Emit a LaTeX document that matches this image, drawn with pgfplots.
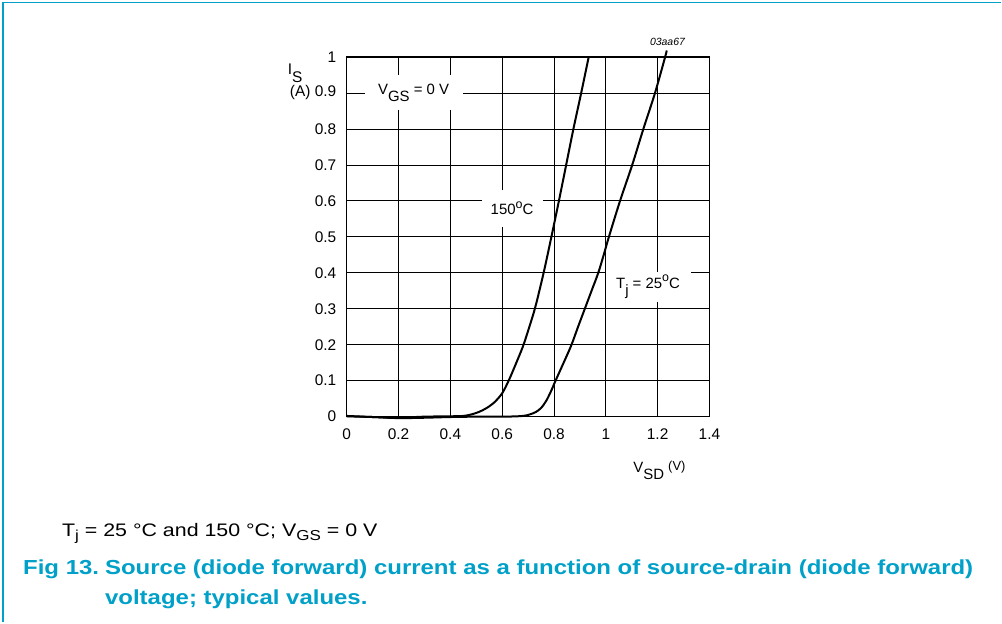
\documentclass[border=0pt]{standalone}
\usepackage{pgfplots}
\pgfplotsset{compat=1.18}
\usepackage{fontspec}
\setmainfont{Liberation Sans}
\newfontfamily\capfont[FakeStretch=1.18]{Liberation Sans}
\definecolor{nxpblue}{RGB}{0,160,200}
\newcommand\lo[1]{\raisebox{-0.9ex}{#1}}
\newcommand\up[1]{\raisebox{0.8ex}{\fontsize{12.5}{14}\selectfont #1}}
\begin{document}
\begin{tikzpicture}[x=1bp,y=1bp]
\path (0,0) rectangle (1002,623);
\draw[nxpblue, line width=1.6bp] (3.3,0) -- (3.3,620.3) -- (1002,620.3);
\begin{axis}[
  at={(347bp,206bp)}, anchor=south west,
  scale only axis, width=363bp, height=360bp,
  xmin=0, xmax=1.4, ymin=0, ymax=1,
  xtick={0,0.2,0.4,0.6,0.8,1,1.2,1.4},
  xticklabels={0,0.2,0.4,0.6,0.8,1,1.2,1.4},
  ytick={0,0.1,0.2,0.3,0.4,0.5,0.6,0.7,0.8,0.9,1},
  yticklabels={0,0.1,0.2,0.3,0.4,0.5,0.6,0.7,0.8,(A) 0.9,1},
  tick label style={font=\fontsize{15.5}{18}\selectfont},
  xticklabel style={yshift=-9bp},
  yticklabel style={xshift=-7bp},
  major tick length=0pt,
  grid=major,
  major grid style={black, line width=0.7bp},
  axis line style={black, line width=0.9bp},
  clip=false,
]
\addplot[black, line width=2bp, smooth, tension=0.5] coordinates {
(0,0.002)(0.1,-0.001)(0.2,-0.003)(0.3,0)(0.4,0.001)(0.45,0.002)(0.48,0.006)
(0.51,0.013)(0.54,0.024)(0.57,0.04)(0.6,0.065)(0.625,0.1)(0.65,0.142)
(0.68,0.195)(0.705,0.25)(0.728,0.305)(0.76,0.4)(0.79,0.5)
(0.819,0.6)(0.847,0.7)(0.875,0.8)(0.905,0.9)(0.934,1.0)};
\addplot[black, line width=2bp, smooth, tension=0.5] coordinates {
(0,0.001)(0.1,-0.001)(0.2,-0.004)(0.3,-0.003)(0.4,-0.001)(0.5,0)(0.6,0)
(0.66,0.001)(0.69,0.003)(0.71,0.007)(0.73,0.013)(0.75,0.024)(0.77,0.044)
(0.788,0.07)(0.806,0.1)(0.836,0.148)(0.866,0.197)(0.893,0.25)(0.919,0.3)
(0.945,0.35)(0.971,0.4)(0.992,0.45)(1.012,0.5)(1.055,0.6)(1.102,0.7)
(1.145,0.8)(1.19,0.9)(1.229,1.0)(1.235,1.018)};
\node[fill=white, inner sep=0pt, minimum width=98bp, minimum height=35bp,
  font=\fontsize{15}{17}\selectfont] at (axis cs:0.258,0.901) {V\lo{GS} = 0 V};
\node[fill=white, inner sep=0pt, minimum width=61bp, minimum height=37bp,
  font=\fontsize{15}{17}\selectfont] at (axis cs:0.638,0.579) {150\up{o}C};
\node[fill=white, inner sep=0pt, minimum width=85bp, minimum height=30bp,
  font=\fontsize{15}{17}\selectfont] at (axis cs:1.163,0.361) {T\lo{j} = 25\up{o}C};
\node[anchor=base west, inner sep=0pt, font=\fontsize{15.5}{17}\selectfont]
  at (axis cs:-0.228,0.95) {I\lo{S}};
\node[font=\fontsize{15}{17}\selectfont] at (axis cs:1.207,-0.15)
  {V\lo{SD} \raisebox{0.2ex}{\fontsize{13}{15}\selectfont (V)}};
\node[font=\fontsize{10.5}{12}\selectfont\itshape] at (axis cs:1.238,1.042) {03aa67};
\end{axis}
\node[anchor=base west, inner sep=0pt, font=\capfont\fontsize{18.2}{21}\selectfont]
  at (62,86) {T\raisebox{-0.45ex}{\fontsize{14.5}{16}\selectfont j} = 25 °C and 150 °C; V\raisebox{-0.45ex}{\fontsize{14.5}{16}\selectfont GS} = 0 V};
\node[anchor=base west, inner sep=0pt, text=nxpblue, font=\capfont\bfseries\fontsize{20.4}{24}\selectfont]
  at (23,48) {Fig 13.};
\node[anchor=base west, inner sep=0pt, text=nxpblue, font=\capfont\bfseries\fontsize{20.4}{24}\selectfont]
  at (105,48) {Source (diode forward) current as a function of source-drain (diode forward)};
\node[anchor=base west, inner sep=0pt, text=nxpblue, font=\capfont\bfseries\fontsize{20.4}{24}\selectfont]
  at (105,18) {voltage; typical values.};
\end{tikzpicture}
\end{document}
